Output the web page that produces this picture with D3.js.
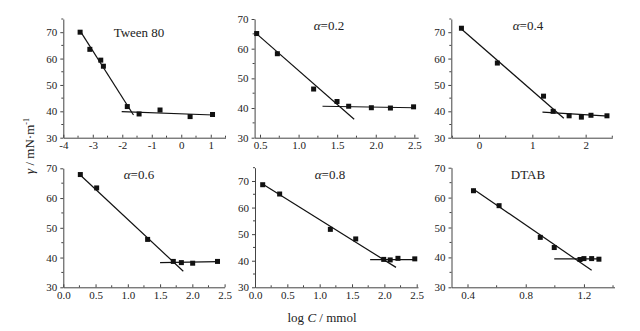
<!DOCTYPE html>
<html><head><meta charset="utf-8">
<script src="https://cdn.jsdelivr.net/npm/d3@7"></script>
<style>
html,body{margin:0;padding:0;background:#fff;}
svg{display:block;}
text{font-family:"Liberation Serif","Times New Roman",serif;fill:#222;}
</style></head>
<body><svg id="c" width="640" height="331"></svg>
<script>
// ---- data ----
const panelTitles = ["Tween 80", "α=0.2", "α=0.4", "α=0.6", "α=0.8", "DTAB"];

const tweenX = [-3.43, -3.10, -2.73, -2.64, -1.83, -1.43, -0.72, 0.30, 1.06];
const tweenY = [70.0, 63.5, 59.4, 57.1, 41.8, 39.0, 40.5, 38.0, 38.8];
const tweenFitSteep = [[-3.43, 70.5], [-1.62, 38.6]];
const tweenFitFlat  = [[-2.02, 39.9], [1.09, 38.6]];

const a02X = [0.457, 0.725, 1.195, 1.498, 1.649, 1.943, 2.19, 2.49];
const a02Y = [65.1, 58.3, 46.4, 42.2, 40.6, 40.1, 40.0, 40.4];
const a02FitSteep = [[0.435, 65.5], [1.72, 36.2]];
const a02FitFlat  = [[1.31, 40.6], [2.50, 40.1]];

const a04X = [-0.33, 0.344, 1.21, 1.39, 1.69, 1.92, 2.10, 2.40];
const a04Y = [71.5, 58.3, 45.75, 40.0, 38.3, 37.8, 38.5, 38.3];
const a04FitSteep = [[-0.32, 71.0], [1.59, 37.4]];
const a04FitFlat  = [[1.19, 39.7], [2.43, 38.2]];

const a06X = [0.264, 0.517, 1.307, 1.705, 1.83, 2.005, 2.39];
const a06Y = [67.9, 63.4, 46.1, 38.7, 38.3, 38.1, 38.7];
const a06FitSteep = [[0.279, 67.4], [1.86, 35.4]];
const a06FitFlat  = [[1.50, 38.3], [2.40, 38.6]];

const a08X = [0.119, 0.381, 1.165, 1.557, 1.99, 2.09, 2.21, 2.47];
const a08Y = [68.6, 65.1, 51.8, 48.2, 40.5, 40.3, 40.9, 40.7];
const a08FitSteep = [[0.129, 68.7], [2.18, 37.5]];
const a08FitFlat  = [[1.78, 40.4], [2.48, 40.4]];

const dtabX = [0.441, 0.617, 0.90, 0.996, 1.173, 1.20, 1.253, 1.303];
const dtabY = [62.3, 57.3, 46.7, 43.3, 39.3, 39.6, 39.6, 39.4];
const dtabFitSteep = [[0.439, 62.9], [1.253, 35.7]];
const dtabFitFlat  = [[0.996, 39.5], [1.307, 39.5]];

const xTicks = [
  [-4, -3, -2, -1, 0, 1],
  [0.5, 1.0, 1.5, 2.0, 2.5],
  [0, 1, 2],
  [0.0, 0.5, 1.0, 1.5, 2.0, 2.5],
  [0.0, 0.5, 1.0, 1.5, 2.0, 2.5],
  [0.4, 0.8, 1.2]
];
const xTickFormats = ["d", ".1f", "d", ".1f", ".1f", ".1f"];
const yTicks = [30, 40, 50, 60, 70];
const yLabel = "γ / mN·m⁻¹";
const xLabelMain = "log ";
const xLabelVar = "C";
const xLabelUnit = " / mmol";

// ---- layout ----
const layout = [
  {xd:[-4, 1.5],   xr:[63.3, 225.5], yd:[30,75], yr:[137.7, 19]},
  {xd:[0.43, 2.55],xr:[254.6, 418.2], yd:[30,70], yr:[137.7, 19]},
  {xd:[-0.52, 2.5],xr:[451.3, 612.3], yd:[30,75], yr:[137.7, 19]},
  {xd:[0, 2.5],    xr:[63.3, 224.6], yd:[30,70], yr:[287.3, 168.3]},
  {xd:[0, 2.52],   xr:[255, 418],    yd:[30,75], yr:[287.3, 167.7]},
  {xd:[0.29, 1.41],xr:[451.5, 614.5],yd:[30,70], yr:[287.3, 167.7]}
];
const titlePos = [[139, 37],[329, 30],[528, 30],[139, 179],[330, 179],[528, 179]];

const panels = [
  {x:tweenX, y:tweenY, fits:[tweenFitSteep, tweenFitFlat]},
  {x:a02X, y:a02Y, fits:[a02FitSteep, a02FitFlat]},
  {x:a04X, y:a04Y, fits:[a04FitSteep, a04FitFlat]},
  {x:a06X, y:a06Y, fits:[a06FitSteep, a06FitFlat]},
  {x:a08X, y:a08Y, fits:[a08FitSteep, a08FitFlat]},
  {x:dtabX, y:dtabY, fits:[dtabFitSteep, dtabFitFlat]}
];

const svg = d3.select("#c");
svg.append("rect").attr("width",640).attr("height",331).attr("fill","#fff");

panels.forEach((p, i) => {
  const L = layout[i];
  const x = d3.scaleLinear().domain(L.xd).range(L.xr);
  const y = d3.scaleLinear().domain(L.yd).range(L.yr);
  const g = svg.append("g");

  // minor ticks
  const xt = xTicks[i];
  const step = xt[1] - xt[0];
  const xMinor = [];
  for (let k = -1; k < xt.length; k++) {
    const v = xt[0] + (k + 0.5) * step;
    if (v >= L.xd[0] - 1e-9 && v <= L.xd[1] + 1e-9) xMinor.push(v);
  }
  const yMinor = [];
  for (let v = L.yd[0] + 5; v <= L.yd[1]; v += 10) yMinor.push(v);

  // x axis
  const xa = g.append("g").attr("transform", `translate(0,${L.yr[0]})`)
    .call(d3.axisBottom(x).tickValues(xt).tickFormat(d3.format(xTickFormats[i]))
      .tickSize(-3).tickSizeOuter(0).tickPadding(4));
  xa.selectAll(".tick line").attr("stroke", "#444");
  xa.select(".domain").attr("stroke", "#444").attr("stroke-width", 1);
  xa.selectAll("text").attr("font-size", 11).attr("fill", "#222")
    .text(d => d3.format(xTickFormats[i])(d).replace("−", "-"));
  xa.selectAll(".minor").data(xMinor).enter().append("line")
    .attr("x1", d => x(d)).attr("x2", d => x(d)).attr("y1", 0).attr("y2", -2)
    .attr("stroke", "#444");

  // y axis
  const ya = g.append("g").attr("transform", `translate(${L.xr[0]},0)`)
    .call(d3.axisLeft(y).tickValues(yTicks).tickSize(3).tickSizeOuter(0).tickPadding(3));
  ya.selectAll(".tick line").attr("stroke", "#444");
  ya.select(".domain").attr("stroke", "#444").attr("stroke-width", 1);
  ya.selectAll("text").attr("font-size", 11).attr("fill", "#222");
  ya.selectAll(".minor").data(yMinor).enter().append("line")
    .attr("x1", 0).attr("x2", -2).attr("y1", d => y(d)).attr("y2", d => y(d))
    .attr("stroke", "#444");

  // fit lines
  const line = d3.line().x(d => x(d[0])).y(d => y(d[1]));
  p.fits.forEach(f => {
    g.append("path").attr("d", line(f)).attr("fill", "none")
      .attr("stroke", "#111").attr("stroke-width", 1.2);
  });

  // points
  const s = 5;
  g.selectAll(".pt").data(p.x.map((v, j) => [v, p.y[j]])).enter().append("rect")
    .attr("x", d => x(d[0]) - s/2).attr("y", d => y(d[1]) - s/2)
    .attr("width", s).attr("height", s).attr("fill", "#111");

  // title
  const t = g.append("text").attr("x", titlePos[i][0]).attr("y", titlePos[i][1])
    .attr("text-anchor", "middle").attr("font-size", 13);
  const title = panelTitles[i];
  if (title.startsWith("α")) {
    t.append("tspan").attr("font-style", "italic").text("α");
    t.append("tspan").text(title.slice(1));
  } else {
    t.text(title);
  }
});

// axis titles
svg.append("text").attr("transform", "translate(34,146) rotate(-90)")
  .attr("text-anchor", "middle").attr("font-size", 13)
  .call(t => {
    t.append("tspan").attr("font-style", "italic").text("γ");
    t.append("tspan").text(" / mN·m");
    t.append("tspan").attr("font-size", 8).attr("dy", -5).text("-1");
  });
svg.append("text").attr("x", 322).attr("y", 322).attr("text-anchor", "middle")
  .attr("font-size", 13)
  .call(t => {
    t.append("tspan").text(xLabelMain);
    t.append("tspan").attr("font-style", "italic").text(xLabelVar);
    t.append("tspan").text(xLabelUnit);
  });
</script></body></html>
